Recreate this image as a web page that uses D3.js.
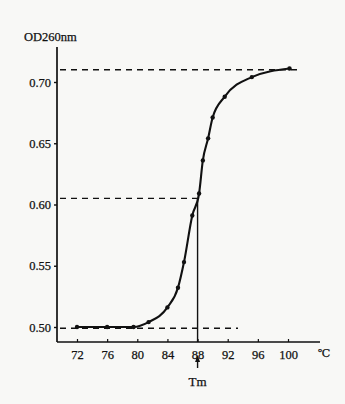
<!DOCTYPE html>
<html>
<head>
<meta charset="utf-8">
<script src="https://cdn.jsdelivr.net/npm/d3@7"></script>
<style>
  html, body { margin: 0; padding: 0; background: #f8f8f6; }
  svg { display: block; }
  text { font-family: "Liberation Serif", "DejaVu Serif", serif; fill: #111; stroke: #111; stroke-width: 0.25; }
</style>
</head>
<body>
<svg id="chart" width="345" height="404"></svg>
<script>
// Melting curve of DNA: absorbance at 260 nm vs temperature
const temps = [72, 76, 79.5, 81.5, 84, 85.4, 86.2, 87.3, 88.2, 88.7, 89.4, 90.0, 91.6, 95.2, 100.2];
const od260 = [0.500, 0.500, 0.500, 0.504, 0.516, 0.532, 0.553, 0.591, 0.609, 0.636, 0.654, 0.671, 0.688, 0.704, 0.711];
const xTicks = [72, 76, 80, 84, 88, 92, 96, 100];
const yTicks = [0.50, 0.55, 0.60, 0.65, 0.70];
const odMax = 0.71, odMin = 0.499, odMid = 0.605, tm = 88;

const svg = d3.select("#chart");
const x = d3.scaleLinear().domain([72, 100]).range([77, 288]);
const y = d3.scaleLinear().domain([0.5, 0.7]).range([327, 82]);

const axisX0 = 57, axisXEnd = 320, axisYTop = 47, axisYBot = 342;
const ink = "#111";

// axis lines
svg.append("line").attr("x1", axisX0).attr("x2", axisX0).attr("y1", axisYTop).attr("y2", axisYBot)
  .attr("stroke", ink).attr("stroke-width", 1.7);
svg.append("line").attr("x1", axisX0).attr("x2", axisXEnd).attr("y1", axisYBot).attr("y2", axisYBot)
  .attr("stroke", ink).attr("stroke-width", 1.7);

// y axis ticks and labels
const yAxis = d3.axisLeft(y).tickValues(yTicks).tickSize(3).tickPadding(3)
  .tickFormat(d3.format(".2f"));
const gy = svg.append("g").attr("transform", `translate(${axisX0},0)`).call(yAxis);
gy.select(".domain").remove();
gy.selectAll(".tick line").attr("stroke", ink).attr("stroke-width", 1.4);
gy.selectAll(".tick text").attr("font-size", 12.5).attr("font-family", null).attr("fill", ink);

// x axis ticks and labels
const xAxis = d3.axisBottom(x).tickValues(xTicks).tickSize(-3).tickPadding(8).tickFormat(d3.format("d"));
const gx = svg.append("g").attr("transform", `translate(0,${axisYBot})`).call(xAxis);
gx.select(".domain").remove();
gx.selectAll(".tick line").attr("stroke", ink).attr("stroke-width", 1.2);
gx.selectAll(".tick text").attr("font-size", 12.5).attr("font-family", null).attr("fill", ink);

// axis titles
svg.append("text").attr("x", 24).attr("y", 41).attr("font-size", 12.5).text("OD260nm");
svg.append("text").attr("x", 318).attr("y", 357).attr("font-size", 11).text("℃");

// reference dashed lines
const dash = "6,5";
svg.append("line").attr("x1", 60).attr("x2", 298).attr("y1", y(odMax)).attr("y2", y(odMax))
  .attr("stroke", ink).attr("stroke-width", 1.3).attr("stroke-dasharray", dash);
svg.append("line").attr("x1", 60).attr("x2", x(tm)).attr("y1", y(odMid)).attr("y2", y(odMid))
  .attr("stroke", ink).attr("stroke-width", 1.3).attr("stroke-dasharray", dash);
svg.append("line").attr("x1", 60).attr("x2", 238).attr("y1", y(odMin)).attr("y2", y(odMin))
  .attr("stroke", ink).attr("stroke-width", 1.3).attr("stroke-dasharray", dash);

// Tm vertical line
svg.append("line").attr("x1", x(tm)).attr("x2", x(tm)).attr("y1", y(odMid)).attr("y2", axisYBot)
  .attr("stroke", ink).attr("stroke-width", 1.4);

// melting curve
const pts = temps.map((t, i) => [t, od260[i]]);
svg.append("path").datum(pts)
  .attr("fill", "none").attr("stroke", ink).attr("stroke-width", 2.1)
  .attr("d", d3.line().x(d => x(d[0])).y(d => y(d[1])).curve(d3.curveMonotoneX));
svg.selectAll("circle.pt").data(pts).join("circle").attr("class", "pt")
  .attr("cx", d => x(d[0])).attr("cy", d => y(d[1])).attr("r", 2.2).attr("fill", ink);

// Tm marker with upward arrow
const ax = x(tm);
svg.append("line").attr("x1", ax).attr("x2", ax).attr("y1", 360).attr("y2", 368)
  .attr("stroke", ink).attr("stroke-width", 1.4);
svg.append("path").attr("d", `M${ax},355 L${ax - 2.5},362 L${ax + 2.5},362 Z`).attr("fill", ink);
svg.append("text").attr("x", ax).attr("y", 386).attr("text-anchor", "middle").attr("font-size", 13).text("Tm");
</script>
</body>
</html>
